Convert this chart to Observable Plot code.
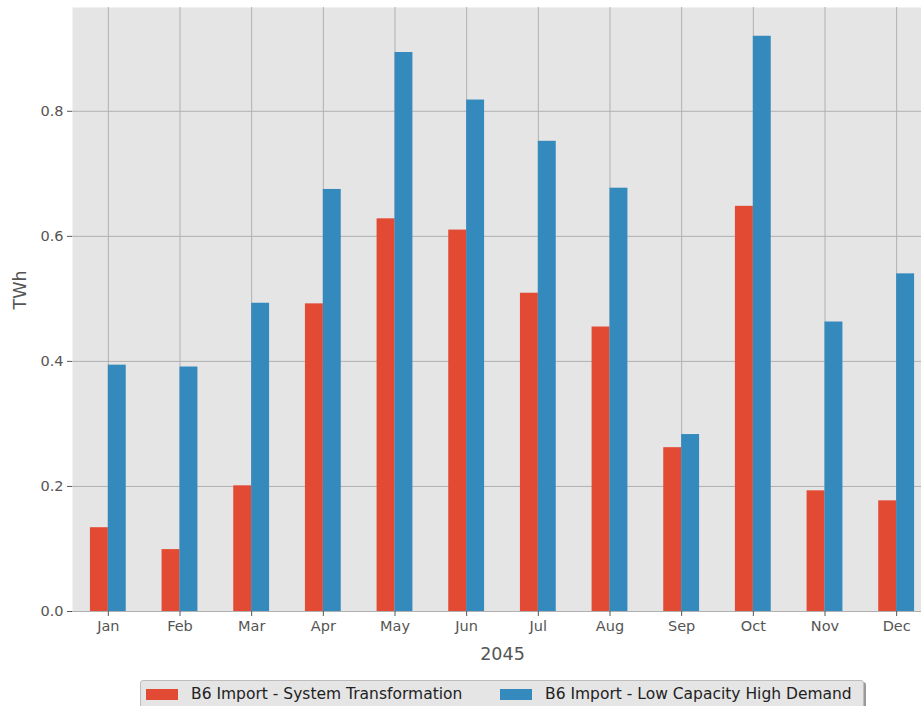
<!DOCTYPE html>
<html>
<head>
<meta charset="utf-8">
<script src="https://cdn.jsdelivr.net/npm/d3@7"></script>
<script src="https://cdn.jsdelivr.net/npm/@observablehq/plot@0.6"></script>
<style>
  html, body { margin: 0; padding: 0; background: #fff; overflow: hidden; }
  #wrap { position: relative; width: 921px; height: 706px; overflow: hidden; font-family: "DejaVu Sans", sans-serif; }
  #chart svg { max-width: none !important; height: 665px !important; width: 940px !important; }
  #legend { position: absolute; left: 140px; top: 680px; width: 724px; height: 34px; background: #E5E5E5; border: 1px solid #bdbdbd; border-radius: 3px; box-shadow: 2px 2px 0 #9a9a9a; box-sizing: border-box; font-size: 15.5px; color: #222; }
  .item { position: absolute; top: 4px; display: flex; align-items: center; }
  .sw { width: 32px; height: 11px; margin-right: 13px; }
</style>
</head>
<body>
<div id="wrap">
  <div id="chart"></div>
  <div id="legend">
    <div class="item" style="left:5px"><div class="sw" style="background:#E24A33"></div><span>B6 Import - System Transformation</span></div>
    <div class="item" style="left:359px"><div class="sw" style="background:#348ABD"></div><span>B6 Import - Low Capacity High Demand</span></div>
  </div>
</div>
<script>
const months = ["Jan","Feb","Mar","Apr","May","Jun","Jul","Aug","Sep","Oct","Nov","Dec"];
const seriesNames = ["B6 Import - System Transformation", "B6 Import - Low Capacity High Demand"];
const systemTransformation = [0.134, 0.099, 0.201, 0.492, 0.628, 0.610, 0.509, 0.455, 0.262, 0.648, 0.193, 0.177];
const lowCapacityHighDemand = [0.394, 0.391, 0.493, 0.675, 0.894, 0.818, 0.752, 0.677, 0.283, 0.920, 0.463, 0.540];
const yTicks = [0, 0.2, 0.4, 0.6, 0.8];

const redData = months.map((m, i) => ({month: m, value: systemTransformation[i]}));
const blueData = months.map((m, i) => ({month: m, value: lowCapacityHighDemand[i]}));

const chart = Plot.plot({
  width: 940,
  height: 665,
  marginLeft: 72,
  marginRight: 8,
  marginTop: 7,
  marginBottom: 54,
  style: {fontFamily: "DejaVu Sans, sans-serif", fontSize: "14.5px", color: "#555", background: "transparent", maxWidth: "none"},
  x: {domain: months, paddingInner: 0.5, paddingOuter: 0.25, align: 0.5, round: false, label: null},
  y: {domain: [0, 0.966], label: null},
  marks: [
    Plot.frame({fill: "#E5E5E5", stroke: null}),
    Plot.gridX({stroke: "#b0b0b0", strokeOpacity: 1, strokeWidth: 1}),
    Plot.gridY(yTicks, {stroke: "#b0b0b0", strokeOpacity: 1, strokeWidth: 1}),
    Plot.barY(redData, {x: "month", y: "value", fill: "#E24A33", insetLeft: 0, insetRight: 17.9}),
    Plot.barY(blueData, {x: "month", y: "value", fill: "#348ABD", insetLeft: 17.9, insetRight: 0}),
    Plot.axisX({tickSize: 5, tickPadding: 4, stroke: "#555", fill: "#555", label: null}),
    Plot.axisY({ticks: yTicks, tickFormat: d3.format(".1f"), tickSize: 5, tickPadding: 4, stroke: "#555", fill: "#555", label: null}),
    Plot.text(["2045"], {frameAnchor: "bottom", dy: 48, fontSize: 17.5, fill: "#555"}),
    Plot.text(["TWh"], {frameAnchor: "left", dx: -52, rotate: -90, fontSize: 17.5, fill: "#555"})
  ]
});
document.getElementById("chart").appendChild(chart);
</script>
</body>
</html>
